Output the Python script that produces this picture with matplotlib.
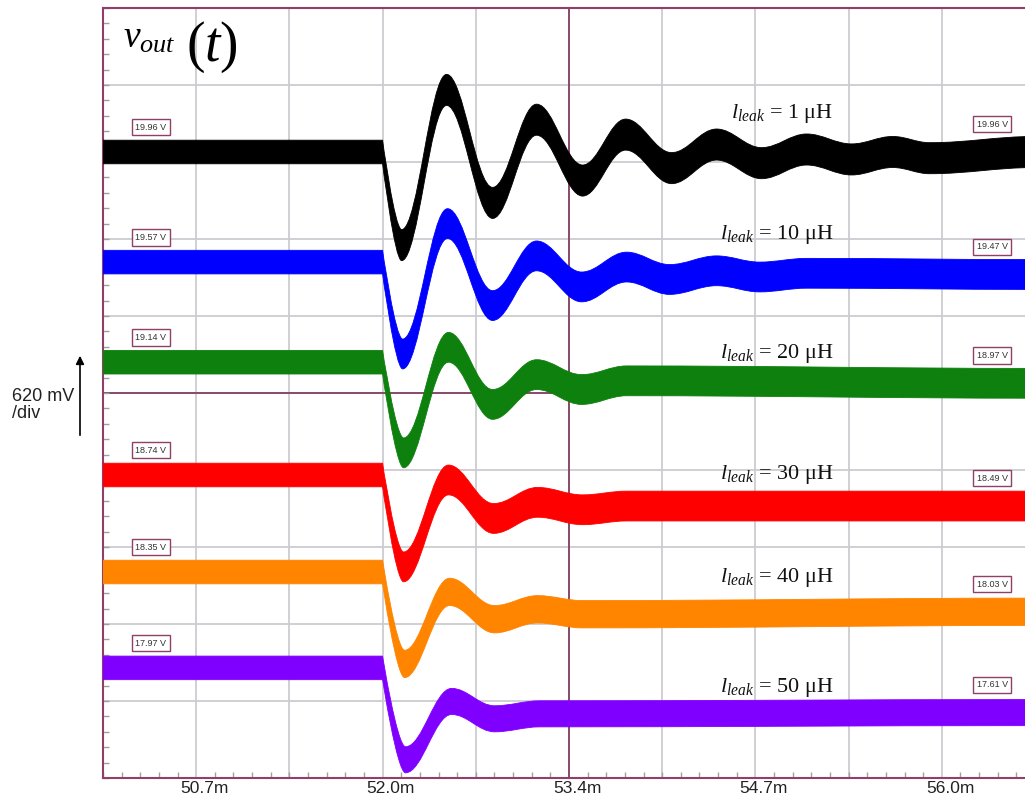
import matplotlib
matplotlib.use('Agg')

import matplotlib.pyplot as plt
from matplotlib.path import Path
from matplotlib.patches import PathPatch
from matplotlib.transforms import blended_transform_factory, ScaledTranslation
from matplotlib.ticker import FixedLocator

plt.rcParams['font.family'] = 'Liberation Sans'
plt.rcParams['mathtext.fontset'] = 'custom'
plt.rcParams['mathtext.rm'] = 'Liberation Serif'
plt.rcParams['mathtext.it'] = 'Liberation Serif:italic'

# scope settings
MS_PER_DIV = 0.67
V_PER_DIV = 0.62
T_LEFT = 49.99
T_RIGHT = T_LEFT + 10 * MS_PER_DIV

tick_labels = ['50.7m', '52.0m', '53.4m', '54.7m', '56.0m']

leak_uH = [1, 10, 20, 30, 40, 50]
colors = ['#000000', '#0000ff', '#0e800e', '#ff0000', '#ff8400', '#8000ff']

# output voltage around the load step: extremes of the ringing (ms, V)
t_1 = [49.99, 52.0, 52.137, 52.460, 52.791, 53.107, 53.438, 53.747, 54.078,
       54.401, 54.725, 55.048, 55.372, 55.667, 55.933, 56.69]
v_1 = [19.96, 19.96, 19.21, 20.46, 19.55, 20.22, 19.73, 20.10, 19.83,
       20.02, 19.87, 19.98, 19.90, 19.96, 19.91, 19.96]

t_10 = [49.99, 52.0, 52.144, 52.467, 52.791, 53.107, 53.431, 53.754, 54.063,
        54.401, 54.710, 55.048, 56.69]
v_10 = [19.57, 19.57, 18.83, 19.88, 19.22, 19.62, 19.37, 19.53, 19.43,
        19.50, 19.45, 19.48, 19.47]

t_20 = [49.99, 52.0, 52.151, 52.474, 52.791, 53.107, 53.431, 53.754, 56.69]
v_20 = [19.14, 19.14, 18.41, 19.26, 18.80, 19.04, 18.92, 18.99, 18.97]

t_30 = [49.99, 52.0, 52.151, 52.474, 52.798, 53.114, 53.438, 53.754, 56.69]
v_30 = [18.74, 18.74, 18.00, 18.70, 18.39, 18.52, 18.46, 18.49, 18.49]

t_40 = [49.99, 52.0, 52.158, 52.482, 52.805, 53.114, 53.438, 56.69]
v_40 = [18.35, 18.35, 17.61, 18.19, 17.97, 18.05, 18.01, 18.03]

t_50 = [49.99, 52.0, 52.165, 52.496, 52.805, 53.129, 56.69]
v_50 = [17.97, 17.97, 17.23, 17.70, 17.56, 17.60, 17.61]

times = [t_1, t_10, t_20, t_30, t_40, t_50]
volts = [v_1, v_10, v_20, v_30, v_40, v_50]

# switching ripple (peak-to-peak, V) before and after the step
ripple_pre = [0.19, 0.19, 0.19, 0.19, 0.19, 0.19]
ripple_post = [0.25, 0.24, 0.24, 0.24, 0.22, 0.21]

# channel positions on screen (div) and text rows
channel_pos = [3.13, 1.70, 0.40, -1.065, -2.325, -3.57]
label_y = [3.571, 2.0, 0.455, -1.117, -2.455, -3.883]

FRAME = '#8e4068'
GRID = '#cbcbd1'
K = 0.37  # control arm of the flat-tangent segments, fraction of the span


def band_path(t, y, hw, corner=1):
    """Closed path of a ripple band: upper edge forward, lower edge back.
    Cubic segments with flat tangents at every extreme; the step node
    gets a sharp corner."""
    verts = [(t[0], y[0] + hw[0])]
    codes = [Path.MOVETO]
    n = len(t)
    for i in range(n - 1):
        dt = t[i + 1] - t[i]
        k0 = 0.0 if i == corner else K * dt
        verts += [(t[i] + k0, y[i] + hw[i]),
                  (t[i + 1] - K * dt, y[i + 1] + hw[i + 1]),
                  (t[i + 1], y[i + 1] + hw[i + 1])]
        codes += [Path.CURVE4] * 3
    verts.append((t[-1], y[-1] - hw[-1]))
    codes.append(Path.LINETO)
    for i in range(n - 1, 0, -1):
        dt = t[i] - t[i - 1]
        k0 = 0.0 if i - 1 == corner else K * dt
        verts += [(t[i] - K * dt, y[i] - hw[i]),
                  (t[i - 1] + k0, y[i - 1] - hw[i - 1]),
                  (t[i - 1], y[i - 1] - hw[i - 1])]
        codes += [Path.CURVE4] * 3
    verts.append(verts[0])
    codes.append(Path.CLOSEPOLY)
    return Path(verts, codes)


fig = plt.figure(figsize=(10.25, 8), dpi=100)
ax = fig.add_axes([103 / 1025, 22 / 800, 932 / 1025, 770 / 800])
ax.set_xlim(T_LEFT, T_RIGHT)
ax.set_ylim(-5, 5)

# graticule
for k in range(1, 10):
    ax.axvline(T_LEFT + k * MS_PER_DIV, color=GRID, lw=1.3, zorder=0)
for k in range(-4, 5):
    ax.axhline(k, color=GRID, lw=1.3, zorder=0)
ax.axvline(T_LEFT + 5 * MS_PER_DIV, color='#8a4a6c', lw=1.4, zorder=1)
ax.axhline(0, color='#8a4a6c', lw=1.4, zorder=1)

ax.set_xticks([T_LEFT + k * MS_PER_DIV for k in (1, 3, 5, 7, 9)], tick_labels)
ax.set_yticks([])
ax.xaxis.set_minor_locator(FixedLocator([T_LEFT + i * MS_PER_DIV / 5 for i in range(51)]))
ax.yaxis.set_minor_locator(FixedLocator([-5 + i * 0.2 for i in range(51)]))
ax.tick_params(axis='x', which='major', length=0, pad=2.5, labelsize=12.5, labelcolor='#222222')
ax.tick_params(which='minor', direction='in', length=4, width=1, color='#a0a0a0')
shift = ScaledTranslation(6 / 72, 0, fig.dpi_scale_trans)
for lab in ax.get_xticklabels():
    lab.set_transform(lab.get_transform() + shift)

for side in ax.spines.values():
    side.set_color(FRAME)
    side.set_linewidth(1.5)

bt = blended_transform_factory(ax.transAxes, ax.transData)

for i in range(len(leak_uH)):
    t = times[i]
    v = volts[i]
    y = [channel_pos[i] + (vv - v[0]) / V_PER_DIV for vv in v]
    hw = [ripple_pre[i] / 2 / V_PER_DIV] * 2 + \
         [ripple_post[i] / 2 / V_PER_DIV] * (len(v) - 2)
    ax.add_patch(PathPatch(band_path(t, y, hw), facecolor=colors[i],
                           edgecolor=colors[i], lw=0.6, zorder=3))

    box = dict(boxstyle='square,pad=0.4', fc='white', ec=FRAME, lw=1)
    ax.text(0.0515, y[0] + 0.32, f'{v[0]:.2f} V', transform=bt, ha='center',
            va='center', fontsize=6.5, color='#333333', bbox=box, zorder=5)
    ax.text(0.954, y[-1] + 0.36, f'{v[-1]:.2f} V', transform=bt, ha='center',
            va='center', fontsize=6.5, color='#333333', bbox=box, zorder=5)

    ax.text(0.784, label_y[i], rf'$l_{{leak}}$ = {leak_uH[i]} μH', transform=bt,
            ha='right', va='baseline', fontsize=16, family='Liberation Serif',
            color='#111111', zorder=5)

# trace name
fig.text(123 / 1025, 1 - 48 / 800, r'$v_{out}$', fontsize=27, ha='left', va='baseline')
fig.text(186 / 1025, 1 - 47 / 800, r'$(t)$', fontsize=40, ha='left', va='center')

# vertical scale
fig.text(12 / 1025, 1 - 405 / 800, '620 mV\n/div', fontsize=13, ha='left',
         va='center', linespacing=1.05, color='#222222')
ax.annotate('', xy=(80 / 1025, 1 - 353 / 800), xytext=(80 / 1025, 1 - 438 / 800),
            xycoords='figure fraction', textcoords='figure fraction',
            arrowprops=dict(arrowstyle='-|>', color='black', lw=1.2, mutation_scale=12),
            annotation_clip=False)

fig.savefig('out.png', dpi=100)
